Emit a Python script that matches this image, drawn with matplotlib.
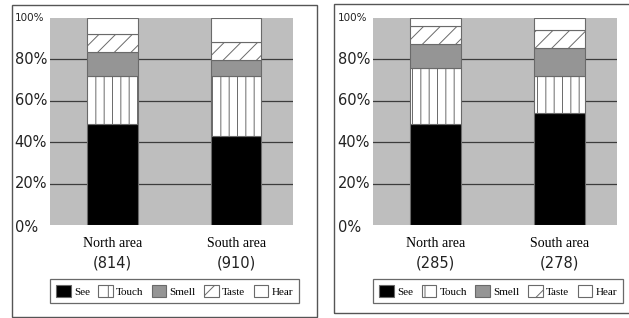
import numpy as np
import matplotlib
matplotlib.use('Agg')
from matplotlib import pyplot as plt
from matplotlib.patches import Patch, Rectangle

# data (percent of respondents)
areas = ['North area', 'South area']
senses = ['See', 'Touch', 'Smell', 'Taste', 'Hear']
counts_left = ['(814)', '(910)']
counts_right = ['(285)', '(278)']

see_left = [48.8, 43.1]
touch_left = [23.0, 28.7]
smell_left = [11.6, 7.9]
taste_left = [8.7, 8.7]
hear_left = [7.9, 11.6]

see_right = [48.8, 54.3]
touch_right = [27.0, 17.7]
smell_right = [11.6, 13.4]
taste_right = [8.6, 8.6]
hear_right = [4.0, 6.0]

yticks = [0, 20, 40, 60, 80, 100]
ytick_labels = ['0%', '20%', '40%', '60%', '80%', '100%']

colors = ['black', 'white', '#959595', 'white', 'white']
hatches = [None, '||', None, '//', None]
leg_hatches = [None, '|', None, '/', None]

plt.rcParams['hatch.linewidth'] = 0.7
sans = 'DejaVu Sans'
serif = 'Liberation Serif'

fig = plt.figure(figsize=(6.29, 3.18), dpi=100)

# panel frames
fig.patches.append(Rectangle((12/629, 1-317/318), 305/629, 312/318, transform=fig.transFigure,
                             fill=False, edgecolor='#555555', linewidth=1.0))
fig.patches.append(Rectangle((334/629, 1-313/318), 310/629, 309/318, transform=fig.transFigure,
                             fill=False, edgecolor='#555555', linewidth=1.0))


def panel(rect, series, counts):
    ax = fig.add_axes(rect)
    ax.set_facecolor('#bebebe')
    x = np.arange(len(areas))
    bottom = np.zeros(len(areas))
    for vals, c, h in zip(series, colors, hatches):
        ax.bar(x, vals, width=0.41, bottom=bottom, color=c, hatch=h,
               edgecolor='#6a6a6a', linewidth=0.8, zorder=3)
        bottom += np.array(vals)
    for yv in yticks[1:-1]:
        ax.axhline(yv, color='#3c3c3c', linewidth=0.9, zorder=2)
    ax.set_xlim(-0.505, 1.46)
    ax.set_ylim(0, 100)
    ax.set_xticks([])
    ax.set_yticks([])
    for s in ax.spines.values():
        s.set_visible(False)
    tr = ax.get_yaxis_transform()
    for yv, lab in zip(yticks, ytick_labels):
        fs = 7.5 if lab == '100%' else 10.5
        dy = -1 if yv == 0 else 0
        ax.text(-0.145, yv + dy, lab, transform=tr, ha='left', va='center',
                fontsize=fs, family=sans, color='#222222')
    xtr = ax.get_xaxis_transform()
    for xi, name, cnt in zip(x, areas, counts):
        ax.text(xi, -0.087, name, transform=xtr, ha='center', va='center',
                fontsize=10, family=serif)
        ax.text(xi, -0.185, cnt, transform=xtr, ha='center', va='center',
                fontsize=10.5, family=sans, color='#222222')
    handles = [Patch(facecolor=c, edgecolor='#6a6a6a', hatch=h, linewidth=0.8)
               for c, h in zip(colors, leg_hatches)]
    leg = ax.legend(handles, senses, loc='lower left', bbox_to_anchor=(0, -0.377, 1.025, 0.121),
                    mode='expand', ncol=5, frameon=True, fancybox=False, borderaxespad=0,
                    handlelength=1.3, handleheight=1.3, handletextpad=0.3, columnspacing=0.6,
                    borderpad=0.55, prop={'family': serif, 'size': 8})
    leg.get_frame().set_edgecolor('#444444')
    leg.get_frame().set_linewidth(0.9)
    return ax


panel([50/629, 1-225/318, 243/629, 207/318],
      [see_left, touch_left, smell_left, taste_left, hear_left], counts_left)
panel([373/629, 1-225/318, 244/629, 207/318],
      [see_right, touch_right, smell_right, taste_right, hear_right], counts_right)

fig.savefig('out.png', dpi=100)
